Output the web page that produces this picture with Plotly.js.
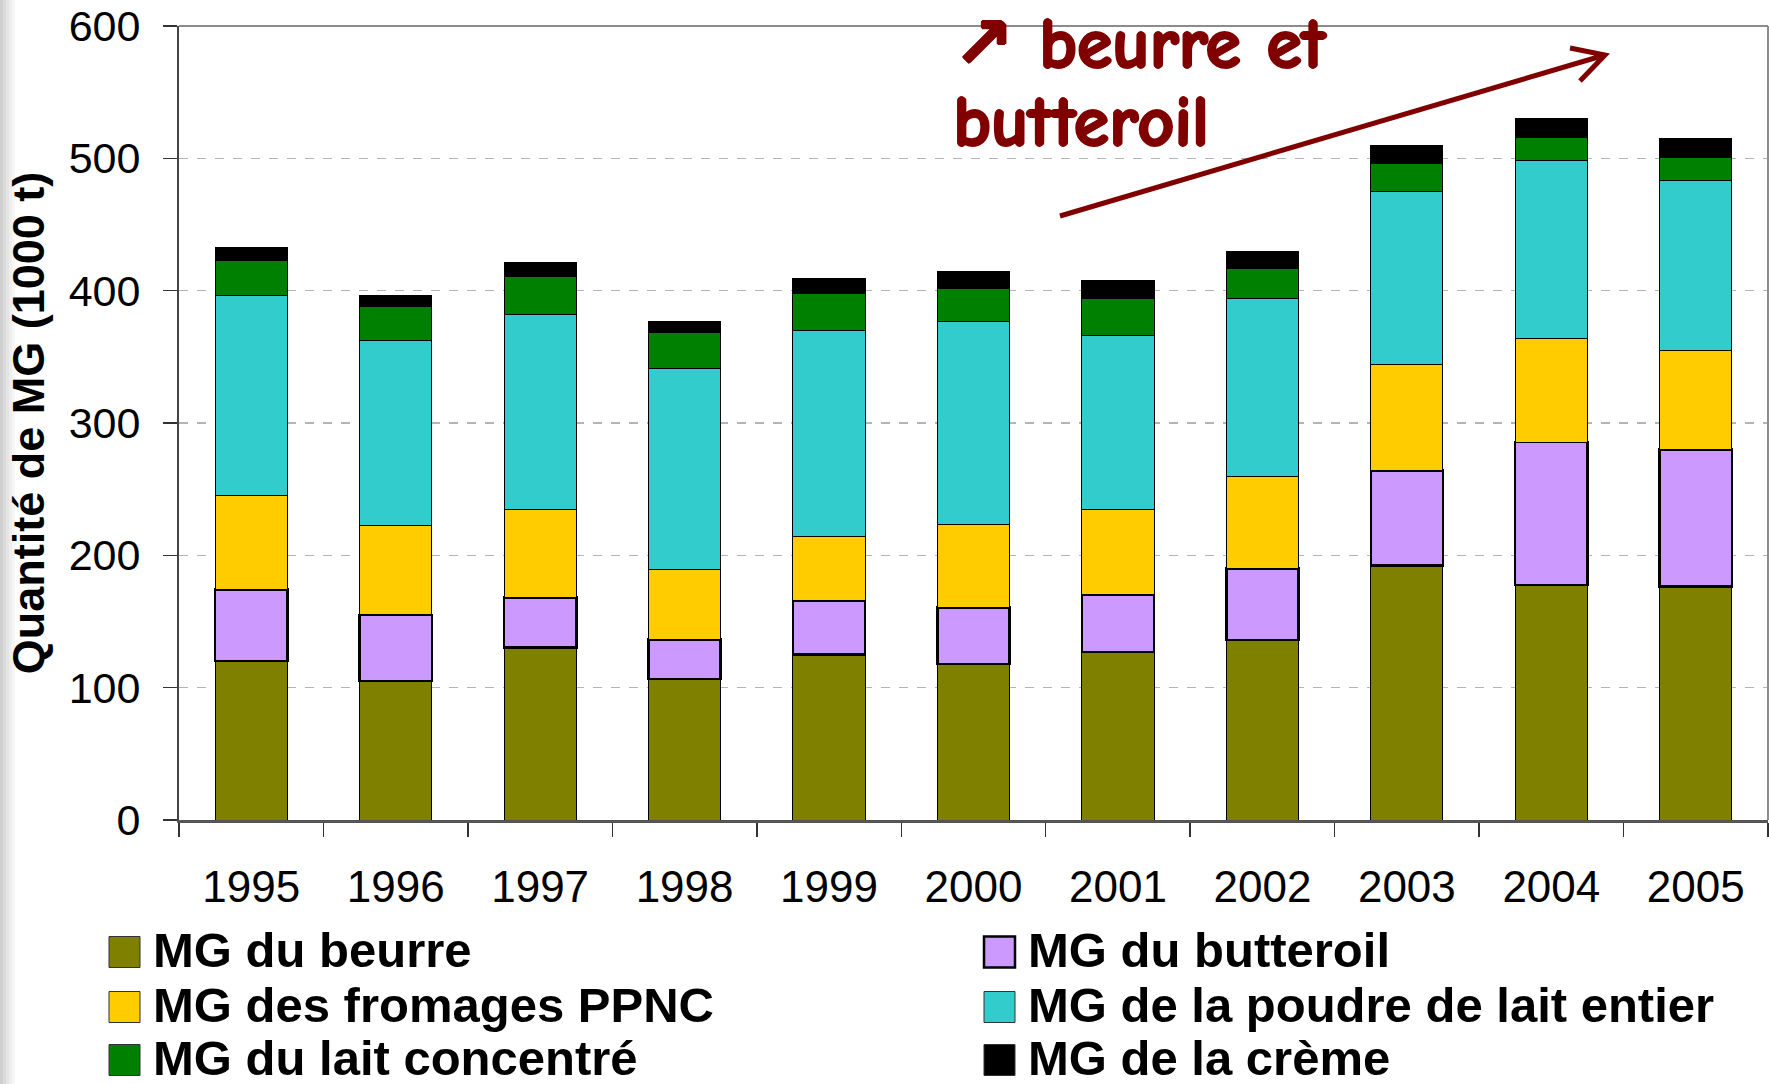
<!DOCTYPE html>
<html>
<head>
<meta charset="utf-8">
<script src="https://cdn.plot.ly/plotly-3.0.1.min.js"></script>
<style>
  html, body { margin: 0; padding: 0; background: #fff; }
  #plotArea { width: 1769px; height: 1084px; }
</style>
</head>
<body>
<div id="plotArea"></div>
<script>
// =============================================================================
// Data : quantité de MG (1000 t)
// =============================================================================

var years = ["1995", "1996", "1997", "1998", "1999", "2000", "2001", "2002", "2003", "2004", "2005"];

var mgBeurre     = [120, 105, 130.5, 106.5, 125, 118, 127, 136, 192.5, 177.5, 176.5];
var mgButteroil  = [54, 50, 37.5, 30, 40.5, 42.5, 43.5, 54, 71.5, 108, 103.5];
var mgFromages   = [71, 67.5, 66.5, 52.5, 49, 62.5, 64.5, 69.5, 80, 78.5, 75];
var mgPoudre     = [151, 139.5, 147.5, 152.5, 155.5, 154, 131, 134.5, 131, 134.5, 128];
var mgLaitConc   = [27, 26, 28.5, 27, 28, 24.5, 28, 23, 21, 17, 17.5];
var mgCreme      = [9.5, 8.5, 10.5, 8, 11, 13, 13.5, 12.5, 14, 14.5, 14.5];

var seriesNames  = ["MG du beurre", "MG du butteroil", "MG des fromages PPNC",
                    "MG de la poudre de lait entier", "MG du lait concentré", "MG de la crème"];
var seriesValues = [mgBeurre, mgButteroil, mgFromages, mgPoudre, mgLaitConc, mgCreme];
var seriesColors = ["#808000", "#cc99ff", "#ffcc00", "#33cccc", "#008000", "#000000"];
var outlineWidth = [1, 2.5, 1, 1, 1, 1];

var noteLines = ["↗ beurre et", "butteroil"];

// =============================================================================
// Traces
// =============================================================================

var data = seriesValues.map(function(vals, i){
    return {
        x: years,
        y: vals,
        name: seriesNames[i],
        type: "bar",
        marker: {color: seriesColors[i], line: {color: "#000", width: outlineWidth[i]}},
        hoverinfo: "name+y"
    };
});

// pixel -> paper helpers (plot area: l=179, t=26, w=1589, h=794)
var L = 179, T = 26, W = 1589, H = 794;
function px(x) { return (x - L) / W; }
function py(y) { return (T + H - y) / H; }

// =============================================================================
// Legend (2 columns, drawn as swatches + text)
// =============================================================================

var legendColX = [109, 984];
var legendRowY = [952, 1007, 1060];
var sw = 31;

var shapes = [];
var annotations = [];

seriesNames.forEach(function(name, i){
    var col = i % 2, row = Math.floor(i / 2);
    var x0 = legendColX[col], yc = legendRowY[row];
    shapes.push({
        type: "rect", xref: "paper", yref: "paper",
        x0: px(x0), x1: px(x0 + sw), y0: py(yc + sw / 2), y1: py(yc - sw / 2),
        fillcolor: seriesColors[i],
        line: {color: i === 1 ? "#000" : "#333", width: i === 1 ? 2.5 : 1}
    });
    annotations.push({
        xref: "paper", yref: "paper",
        x: px(x0 + sw + 11), y: py(yc - 2),
        xanchor: "left", yanchor: "middle",
        text: name, showarrow: false,
        font: {size: 49, weight: "bold", color: "#000"}
    });
});

// frame top / right in grey
shapes.push({type: "line", xref: "paper", yref: "paper", x0: 0, x1: 1, y0: 1, y1: 1,
             line: {color: "#8c8c8c", width: 2}});
shapes.push({type: "line", xref: "paper", yref: "paper", x0: 1, x1: 1, y0: 0, y1: 1,
             line: {color: "#8c8c8c", width: 2}});

// soft shadow on the left edge
var shade = ["#cfcfcf", "#dadada", "#e4e4e4", "#eeeeee", "#f6f6f6"];
shade.forEach(function(c, k){
    shapes.push({type: "rect", xref: "paper", yref: "paper",
                 x0: px(k * 3), x1: px(k * 3 + 3), y0: py(1084), y1: py(0),
                 fillcolor: c, line: {width: 0}, layer: "below"});
});

// big trend arrow
var tail = [1060, 216], tip = [1605, 55], wingA = [1570, 48], wingB = [1580, 81];
shapes.push({
    type: "path", xref: "paper", yref: "paper",
    path: "M" + px(tail[0]) + "," + py(tail[1]) + " L" + px(tip[0]) + "," + py(tip[1]) +
          " M" + px(wingA[0]) + "," + py(wingA[1]) + " L" + px(tip[0]) + "," + py(tip[1]) +
          " L" + px(wingB[0]) + "," + py(wingB[1]),
    line: {color: "#800000", width: 5}
});

// hand-written note, one annotation per line (shadow thickens the strokes)
var noteY = [44, 122];
var thick = "1.5px 0 0 #800000, -1px 0 0 #800000, 0 1px 0 #800000, 0 -1px 0 #800000";
noteLines.forEach(function(t, k){
    annotations.push({
        xref: "paper", yref: "paper",
        x: px(951), y: py(noteY[k]),
        xanchor: "left", yanchor: "middle", align: "left",
        text: t, showarrow: false,
        font: {family: '"Comic Sans MS", "Comic Neue", "DejaVu Sans", sans-serif',
               size: 72, weight: "bold", color: "#800000", shadow: thick}
    });
});

// =============================================================================
// Layout
// =============================================================================

var layout = {
    width: 1769,
    height: 1084,
    margin: {l: L, r: 1, t: T, b: 1084 - T - H},
    barmode: "stack",
    bargap: 0.5,
    showlegend: false,
    paper_bgcolor: "#fff",
    plot_bgcolor: "#fff",
    font: {family: 'Arial, "Liberation Sans", sans-serif', color: "#000"},
    xaxis: {
        type: "category",
        tickson: "boundaries",
        ticks: "outside", ticklen: 14, tickwidth: 1.5, tickcolor: "#333",
        showline: true, linecolor: "#555", linewidth: 2.5,
        showgrid: false,
        tickfont: {size: 44},
        ticklabelstandoff: 27,
        fixedrange: true
    },
    yaxis: {
        range: [0, 600],
        dtick: 100,
        ticks: "outside", ticklen: 14, tickwidth: 1.5, tickcolor: "#333",
        showline: true, linecolor: "#444", linewidth: 2,
        showgrid: true, gridcolor: "#b4b4b4", gridwidth: 1.5, griddash: "dash",
        zeroline: false,
        tickfont: {size: 43},
        ticklabelstandoff: 14,
        title: {text: "Quantité de MG (1000 t)", font: {size: 45, weight: "bold"}, standoff: 10},
        fixedrange: true
    },
    shapes: shapes,
    annotations: annotations
};

Plotly.newPlot("plotArea", data, layout, {displayModeBar: false, staticPlot: true});
</script>
</body>
</html>
